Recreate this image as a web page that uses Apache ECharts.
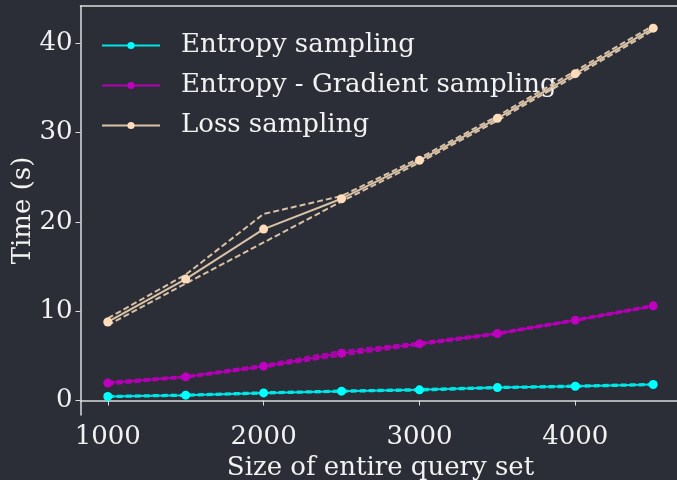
<!DOCTYPE html>
<html>
<head>
<meta charset="utf-8">
<script src="https://cdn.jsdelivr.net/npm/echarts@6/dist/echarts.min.js"></script>
<style>
html,body{margin:0;padding:0;background:#2b2e36;}
#c{width:677px;height:480px;}
</style>
</head>
<body>
<div id="c"></div>
<script>
const sizes = [1000, 1500, 2000, 2500, 3000, 3500, 4000, 4500];
const xTicks = [1000, 2000, 3000, 4000];
const yTicks = [0, 10, 20, 30, 40];

const entropy   = [0.45, 0.6, 0.85, 1.05, 1.2, 1.45, 1.6, 1.8];
const entropyHi = [0.52, 0.67, 0.93, 1.12, 1.28, 1.52, 1.68, 1.87];
const entropyLo = [0.38, 0.53, 0.78, 0.98, 1.12, 1.38, 1.52, 1.73];

const gradient   = [1.95, 2.65, 3.85, 5.3, 6.35, 7.5, 9.0, 10.6];
const gradientHi = [2.1, 2.75, 4.0, 5.55, 6.5, 7.6, 9.1, 10.7];
const gradientLo = [1.8, 2.55, 3.7, 5.05, 6.2, 7.4, 8.9, 10.5];

const loss   = [8.8, 13.6, 19.2, 22.6, 26.9, 31.6, 36.6, 41.7];
const lossHi = [9.2, 14.1, 20.9, 22.9, 27.15, 31.85, 36.9, 42.0];
const lossLo = [8.45, 13.1, 17.7, 22.3, 26.65, 31.35, 36.35, 41.45];

const names = ['Entropy sampling', 'Entropy - Gradient sampling', 'Loss sampling'];
const lineColors = ['#00e5e5', '#b400b4', '#d9c2a6'];
const markColors = ['#00ffff', '#c000c0', '#ffdcbc'];

const pair = (ys) => sizes.map((x, i) => [x, ys[i]]);

const axisColor = '#dcdcdc';
const textColor = '#f2f2f2';
const font = 'DejaVu Serif';
const fs = 26;

function mainSeries(name, ys, k) {
  return {
    name: name, type: 'line', data: pair(ys), z: 5,
    symbol: 'circle', symbolSize: 9, showSymbol: true,
    lineStyle: { color: lineColors[k], width: 2 },
    itemStyle: { color: markColors[k] },
    emphasis: { disabled: true }, animation: false
  };
}
function boundSeries(name, ys, k) {
  return {
    name: name, type: 'line', data: pair(ys), z: 4,
    symbol: 'none',
    lineStyle: { color: lineColors[k], width: 2, type: [6, 3] },
    emphasis: { disabled: true }, animation: false
  };
}

const chart = echarts.init(document.getElementById('c'), null, { renderer: 'canvas' });
chart.setOption({
  backgroundColor: '#2b2e36',
  animation: false,
  textStyle: { fontFamily: font },
  grid: { left: 80.5, top: 6, width: 600, height: 409, containLabel: false, outerBoundsMode: 'none' },
  legend: {
    data: names.map((n, k) => ({ name: n, itemStyle: { color: markColors[k] }, lineStyle: { color: lineColors[k], width: 2 } })),
    orient: 'vertical', left: 96, top: 26,
    itemWidth: 58, itemHeight: 9, itemGap: 11,
    textStyle: { color: textColor, fontFamily: font, fontSize: fs, padding: [0, 0, 0, 16], lineHeight: 29 },
    selectedMode: false
  },
  xAxis: [{
    type: 'value', min: 825, max: 4675,
    axisLine: { show: true, lineStyle: { color: axisColor, width: 1.5 } },
    axisTick: { show: true, length: 5, lineStyle: { color: axisColor, width: 1 }, customValues: xTicks },
    axisLabel: { color: textColor, fontFamily: font, fontSize: fs, margin: 9, customValues: xTicks, formatter: (v) => String(v) },
    splitLine: { show: false },
    name: 'Size of entire query set', nameLocation: 'middle', nameGap: 34,
    nameTextStyle: { color: textColor, fontFamily: font, fontSize: fs }
  }, {
    type: 'value', position: 'top', min: 825, max: 4675,
    axisLine: { show: true, onZero: false, lineStyle: { color: axisColor, width: 1.5 } },
    axisTick: { show: false }, axisLabel: { show: false }, splitLine: { show: false }
  }],
  yAxis: [{
    type: 'value', min: -1.62, max: 44.18,
    axisLine: { show: true, onZero: false, lineStyle: { color: axisColor, width: 1.5 } },
    axisTick: { show: true, length: 5, lineStyle: { color: axisColor, width: 1 }, customValues: yTicks },
    axisLabel: { color: textColor, fontFamily: font, fontSize: fs, margin: 8, customValues: yTicks },
    splitLine: { show: false },
    name: 'Time (s)', nameLocation: 'middle', nameGap: 44, nameRotate: 90, nameMoveOverlap: false,
    nameTextStyle: { color: textColor, fontFamily: font, fontSize: fs }
  }],
  series: [
    boundSeries('eHi', entropyHi, 0), boundSeries('eLo', entropyLo, 0),
    boundSeries('gHi', gradientHi, 1), boundSeries('gLo', gradientLo, 1),
    boundSeries('lHi', lossHi, 2), boundSeries('lLo', lossLo, 2),
    mainSeries(names[0], entropy, 0),
    mainSeries(names[1], gradient, 1),
    mainSeries(names[2], loss, 2)
  ]
});
</script>
</body>
</html>
